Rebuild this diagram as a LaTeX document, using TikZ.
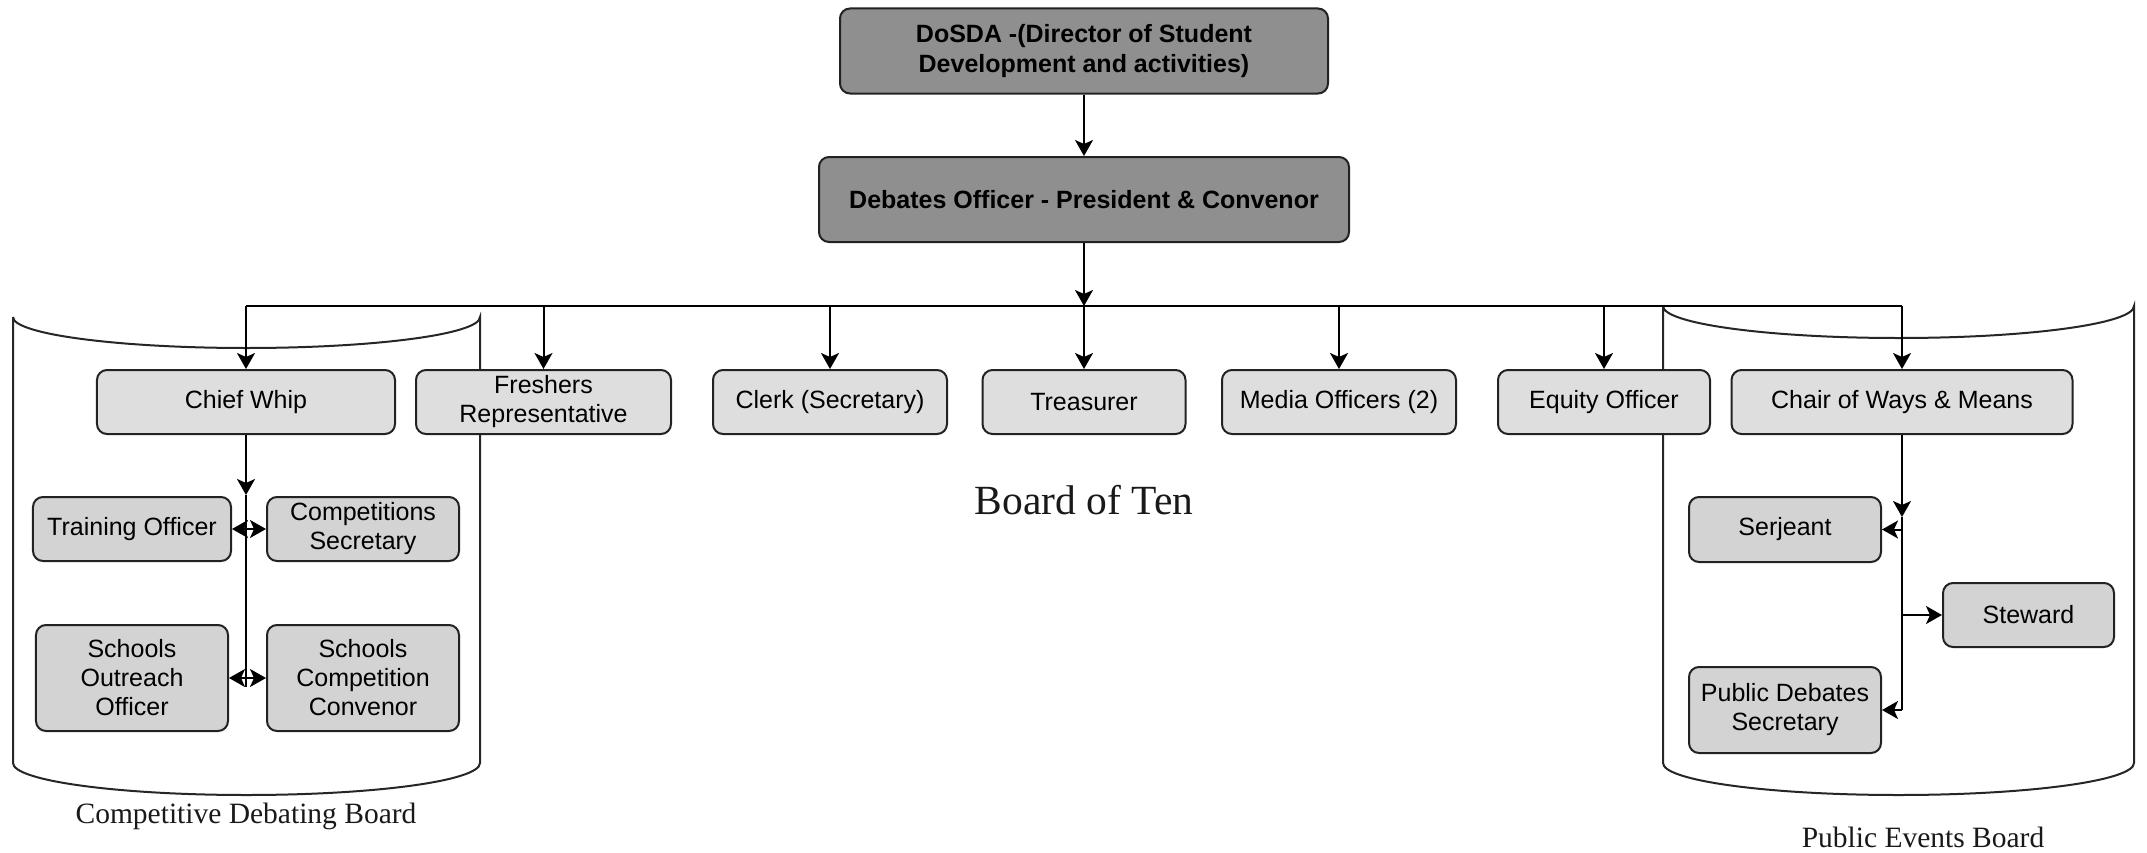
\documentclass[tikz,border=0pt]{standalone}
\usepackage{fontspec}
\usetikzlibrary{arrows.meta}
\newfontfamily\boxfont{Liberation Sans}
\newfontfamily\lblfont{Liberation Serif}
\definecolor{topgray}{HTML}{8F8F8F}
\definecolor{rolegray}{HTML}{DEDEDE}
\definecolor{subgray}{HTML}{D3D3D3}
\definecolor{edgegray}{HTML}{222222}
\tikzset{
  base/.style={rectangle, rounded corners=10bp, draw=edgegray, line width=2bp, inner sep=0pt, align=center, font={\boxfont\fontsize{25bp}{29bp}\selectfont}},
  topbox/.style={base, fill=topgray, font={\boxfont\bfseries\fontsize{25bp}{30bp}\selectfont}},
  rolebox/.style={base, fill=rolegray},
  subbox/.style={base, fill=subgray},
  conn/.style={line width=2bp, draw=black},
  arr/.style={conn, -{Stealth[length=16bp,width=18bp,inset=4bp]}},
  cyl/.style={line width=2bp, draw=black!85},
  lbl/.style={inner sep=0pt, text=black!90}
}
\begin{document}
\begin{tikzpicture}[x=1bp,y=-1bp]
\useasboundingbox (0,0) rectangle (2147,853);
% boards (cylinders)
\draw[cyl] (13,317) -- (13,763) .. controls (13,780.7) and (117.5,795) .. (246.5,795)
  .. controls (375.5,795) and (480,780.7) .. (480,763) -- (480,317)
  .. controls (480,334.1) and (375.5,348) .. (246.5,348)
  .. controls (117.5,348) and (13,334.1) .. (13,317);
\draw[cyl] (1663,306) -- (1663,763) .. controls (1663,780.7) and (1768.4,795) .. (1898.5,795)
  .. controls (2028.6,795) and (2134,780.7) .. (2134,763) -- (2134,306)
  .. controls (2134,323.7) and (2028.6,338) .. (1898.5,338)
  .. controls (1768.4,338) and (1663,323.7) .. (1663,306);
% nodes
\node[topbox, minimum width=488bp, minimum height=85bp] (dosda) at (1084,51) {DoSDA -(Director of Student\\Development and activities)};
\node[topbox, minimum width=530bp, minimum height=85bp] (deb) at (1084,199.5) {Debates Officer - President \& Convenor};
\node[rolebox, minimum width=298bp, minimum height=64bp] (chief) at (246,402) {Chief Whip};
\node[rolebox, minimum width=255bp, minimum height=64bp] (fresh) at (543.5,402) {Freshers\\Representative};
\node[rolebox, minimum width=234bp, minimum height=64bp] (clerk) at (830,402) {Clerk (Secretary)};
\node[rolebox, minimum width=203bp, minimum height=64bp] (treas) at (1084,402) {Treasurer};
\node[rolebox, minimum width=234bp, minimum height=64bp] (media) at (1339,402) {Media Officers (2)};
\node[rolebox, minimum width=212bp, minimum height=64bp] (equity) at (1604,402) {Equity Officer};
\node[rolebox, minimum width=341bp, minimum height=64bp] (chair) at (1902,402) {Chair of Ways \& Means};
\node[subbox, minimum width=198bp, minimum height=64bp] (training) at (132,529) {Training Officer};
\node[subbox, minimum width=192bp, minimum height=64bp] (compsec) at (363,529) {Competitions\\Secretary};
\node[subbox, minimum width=192bp, minimum height=106bp] (outreach) at (132,678) {Schools\\Outreach\\Officer};
\node[subbox, minimum width=192bp, minimum height=106bp] (sconv) at (363,678) {Schools\\Competition\\Convenor};
\node[subbox, minimum width=192bp, minimum height=65bp] (serjeant) at (1785,529.5) {Serjeant};
\node[subbox, minimum width=171bp, minimum height=64bp] (steward) at (2028.5,615) {Steward};
\node[subbox, minimum width=192bp, minimum height=86bp] (pds) at (1785,710) {Public Debates\\Secretary};
% labels
\node[lbl, font={\lblfont\fontsize{41.5bp}{48bp}\selectfont}] (boardten) at (1084,500) {Board of Ten};
\node[lbl, font={\lblfont\fontsize{29.5bp}{34bp}\selectfont}] (cdb) at (246,816) {Competitive Debating Board};
\node[lbl, font={\lblfont\fontsize{29.5bp}{34bp}\selectfont}] (peb) at (1923,837) {Public Events Board};
% connectors
\coordinate (busc) at (1084,306);
\coordinate (lj) at (246,495);
\coordinate (lend) at (246,687);
\coordinate (rj) at (1902,517);
\coordinate (rend) at (1902,710);
\draw[arr] (dosda) -- (deb);
\draw[arr] (deb) -- (busc);
\draw[conn] (busc -| chief.north) -- (busc -| chair.north);
\foreach \n in {chief,fresh,clerk,treas,media,equity,chair}{
  \draw[arr] (busc -| \n.north) -- (\n.north);
}
\draw[arr] (chief) -- (lj);
\draw[conn] (lj) -- (lend);
\draw[arr] (training.east -| lj) -- (training.east);
\draw[arr] (training.east -| lj) -- (compsec.west);
\draw[arr] (outreach.east -| lj) -- (outreach.east);
\draw[arr] (outreach.east -| lj) -- (sconv.west);
\draw[arr] (chair) -- (rj);
\draw[conn] (rj) -- (rend);
\draw[arr] (serjeant.east -| rj) -- (serjeant.east);
\draw[arr] (steward.west -| rj) -- (steward.west);
\draw[arr] (pds.east -| rj) -- (pds.east);
\end{tikzpicture}
\end{document}
